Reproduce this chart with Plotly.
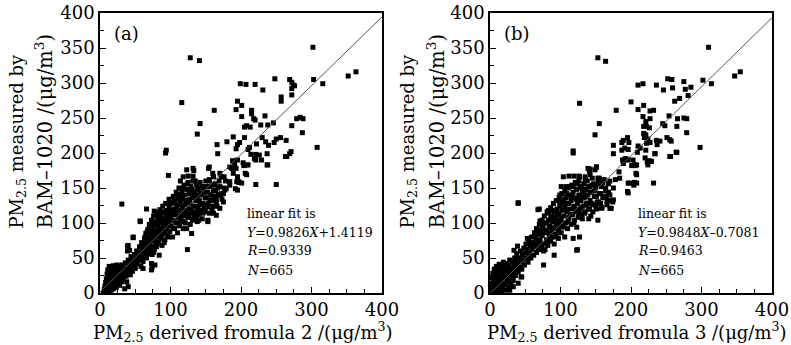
import plotly.graph_objects as go

# ---------------- data ----------------
# panel (a): outliers / sparse points
pts_a_sparse = [
    (302,351),(128,336),(141,332),(352,310),(363,316),(303,305),(316,299),(248,306),(199,299),(207,298),
    (220,298),(231,290),(269,305),(272,301),(276,296),(272,292),(274,297),(272,283),(257,280),(257,274),
    (116,272),(162,261),(195,274),(201,268),(193,262),(142,242),(138,227),(201,252),(215,261),(215,256),
    (218,249),(220,247),(234,253),(208,239),(205,237),(213,237),(228,240),(238,240),(246,243),(272,239),
    (279,249),(284,251),(288,249),(287,229),(308,208),(93,200),(94,204),(166,212),(167,199),(180,216),
    (189,223),(195,212),(198,215),(193,206),(205,222),(210,205),(212,208),(222,213),(221,198),(230,222),
    (235,216),(239,211),(247,215),(250,220),(256,222),(264,218),(271,202),(263,195),(237,199),(237,183),
    (229,190),(221,190),(204,182),(208,183),(203,186),(188,189),(195,190),(132,178),(155,180),(214,198),
    (31,127),(124,62),(114,160),(125,167),(132,167),(133,175),(97,168),(66,120),(77,117),(57,103),
    (47,79),(39,67),(39,60),(74,37),(73,42),(61,35),(84,54),(250,155),(221,155),(194,159),
    (195,147),(193,178),(175,142),(175,130),(153,104),(192,149),(197,158),(206,171),(154,178),(161,166),
    (170,171),(176,166),(184,159),(189,171),(195,166),(184,180),(191,185),(149,152),(156,133),(165,135),
    (172,142),(170,121),(161,114),(153,123),(179,149),(265,195),(269,199),(238,183),(208,169),(210,183),
    (219,192),(226,197),(197,159),(201,157),(189,188),(187,178),(184,154),(177,147),(163,138),(165,111),
    (153,102),(149,116),(142,128),(137,109),(130,85),(118,166),(123,176),(160,171),(155,162),(172,166),
    (57,102),(47,80),(40,68),(42,61),(73,42),(78,40),(64,52),(73,33),(38,16),(40,9),
]
# panel (a): dense cloud
pts_a_dense = [
    (5,1),(6,5),(7,10),(8,3),(8,15),(9,20),(10,8),(10,27),(11,13),(11,33),(12,2),(12,18),(13,24),(13,38),
    (14,9),(14,30),(15,14),(15,36),(16,4),(16,21),(17,27),(17,11),(18,33),(18,17),(19,39),(19,6),(20,23),
    (21,13),(21,30),(22,36),(22,18),(23,8),(24,26),(24,40),(25,14),(25,33),(26,21),(27,29),(27,37),(28,11),
    (28,18),(29,24),(30,33),(31,16),(31,40),(32,27),(33,21),(34,36),(35,6),(35,30),(36,43),(37,24),(38,35),
    (39,29),(40,47),(41,38),(42,32),(43,26),(43,44),(44,52),(45,38),(46,31),(47,46),(48,41),(49,55),(50,35),
    (51,48),(52,60),(53,42),(54,53),(55,47),(56,66),(57,58),(58,38),(58,51),(59,72),(60,63),(61,45),(62,56),
    (63,78),(63,68),(64,60),(65,85),(66,50),(66,73),(67,64),(68,91),(68,56),(69,79),(70,70),(70,98),(71,61),
    (72,85),(73,75),(73,104),(74,55),(74,92),(75,67),(76,81),(76,110),(77,62),(77,96),(78,74),(79,88),
    (79,102),(80,66),(80,115),(81,80),(82,94),(82,108),(83,72),(84,86),(84,100),(85,119),(86,78),(86,112),
    (87,92),(88,106),(88,68),(89,84),(89,124),(90,98),(91,114),(92,76),(92,88),(93,106),(93,128),(94,118),
    (95,92),(96,82),(96,102),(97,112),(98,124),(98,134),(99,88),(100,108),(100,118),(101,96),(102,128),
    (103,80),(103,112),(104,104),(104,138),(105,120),(106,92),(106,130),(107,112),(108,100),(108,144),
    (109,124),(110,86),(110,134),(111,108),(112,118),(112,150),(113,96),(113,140),(114,128),(115,104),
    (115,114),(116,146),(117,122),(117,134),(118,92),(119,110),(119,154),(120,140),(121,100),(121,126),
    (122,116),(123,148),(124,132),(125,108),(125,158),(126,120),(127,142),(128,98),(128,128),(129,152),
    (130,114),(131,136),(132,106),(132,160),(133,124),(134,146),(135,116),(136,132),(137,154),(138,102),
    (138,140),(139,122),(140,112),(140,148),(141,132),(142,158),(143,118),(144,140),(145,106),(146,128),
    (147,150),(148,120),(149,136),(150,160),(152,126),(153,144),(155,114),(156,152),(158,132),(160,124),
    (161,146),(163,156),(165,130),(167,150),(169,160),(171,140),
    (96,110),(99,128),(101,104),(104,92),(105,132),(107,118),(109,140),(111,100),(112,126),(114,110),
    (116,136),(118,150),(119,102),(120,118),(122,132),(123,92),(124,156),(126,112),(127,134),(129,120),
    (130,148),(131,104),(133,140),(134,112),(135,160),(136,124),(137,136),(139,150),(140,104),(141,118),
    (142,142),(144,126),(145,152),(146,114),(148,144),(150,122),(151,136),(152,152),(154,128),(155,160),
    (157,140),(159,118),(160,154),(162,134),(164,146),(166,124),(168,140),(170,152),(173,134),(176,150),
    (178,160),(61,70),(64,80),(67,88),(69,70),(71,90),(72,66),(75,100),(76,58),(78,84),(80,96),(81,70),
    (83,112),(84,92),(86,104),(87,84),(88,116),(90,90),(91,72),(92,104),(94,96),(95,112),(97,80),(98,100),
]
# panel (b): outliers / sparse points
pts_b_sparse = [
    (310,351),(153,336),(164,331),(347,310),(355,316),(302,304),(314,299),(127,271),(210,297),(217,299),
    (236,297),(246,290),(252,306),(258,305),(259,293),(275,302),(277,291),(285,294),(281,282),(269,278),
    (262,274),(200,273),(179,261),(210,262),(218,268),(227,260),(232,261),(217,252),(221,245),(222,238),
    (218,238),(226,236),(227,249),(254,253),(266,249),(275,250),(279,249),(265,238),(279,229),(245,242),
    (248,239),(298,208),(155,242),(149,226),(118,200),(118,203),(142,177),(151,180),(175,211),(175,199),
    (187,215),(189,218),(195,222),(197,215),(191,207),(196,205),(187,204),(210,210),(209,201),(213,207),
    (219,222),(222,214),(224,220),(227,215),(221,226),(218,228),(221,204),(234,199),(237,212),(241,217),
    (236,218),(251,222),(255,219),(257,217),(264,201),(256,195),(203,190),(208,183),(201,182),(206,182),
    (223,187),(226,189),(192,192),(195,191),(188,190),
    (40,129),(124,62),(91,54),(44,23),(70,120),(84,118),(99,140),(71,103),(53,78),(39,67),(34,61),
    (112,167),(119,167),(126,167),(135,166),(141,174),(151,180),(191,190),(196,190),(205,183),(207,171),
    (198,157),(195,145),(205,158),(174,130),(172,121),(153,104),(158,121),(165,138),
    (232,157),(196,143),(208,157),(204,154),(196,157),(208,169),(224,183),(229,188),(220,193),(234,199),
    (255,195),(265,201),(189,185),(183,173),(184,164),(175,133),(170,121),(153,164),(142,169),(149,176),
    (139,178),(127,166),(123,157),(113,152),(104,166),(101,152),(108,152),(40,128),(68,119),(83,118),
    (123,61),(99,95),(85,85),(106,80),(118,78),(127,80),(76,40),(45,23),(40,14),(33,9),(28,4),
]
# panel (b): dense cloud
pts_b_dense = [
    (1,2),(2,8),(3,14),(3,22),(4,4),(4,28),(5,10),(5,18),(6,34),(6,1),(7,24),(8,6),(8,14),(9,30),(9,38),
    (10,20),(10,2),(11,10),(11,26),(12,16),(12,35),(13,5),(13,41),(14,22),(15,12),(15,30),(16,3),(16,37),
    (17,18),(18,26),(18,8),(19,33),(19,44),(20,14),(21,22),(21,38),(22,4),(22,29),(23,12),(24,42),(24,19),
    (25,33),(26,26),(26,7),(27,39),(28,16),(28,47),(29,30),(30,22),(30,12),(31,36),(32,44),(32,27),(33,18),
    (34,32),(35,50),(35,40),(36,25),(37,46),(38,34),(38,56),(39,41),(40,30),(41,50),(42,37),(43,60),(44,44),
    (45,34),(46,54),(47,47),(48,64),(49,40),(50,57),(51,70),(52,50),(53,62),(54,44),(55,74),(56,56),(57,68),
    (58,50),(59,80),(60,62),(61,72),(62,54),(63,86),(64,66),(65,78),(66,58),(66,92),(67,70),(68,84),(69,62),
    (70,98),(71,76),(72,90),(73,66),(74,104),(74,82),(75,94),(76,70),(77,110),(77,86),(78,62),(79,100),
    (80,76),(81,116),(81,90),(82,68),(83,104),(84,82),(85,96),(86,122),(86,74),(87,110),(88,88),(89,102),
    (90,80),(90,128),(91,116),(92,94),(93,108),(94,84),(94,132),(95,120),(96,100),(97,90),(98,112),(98,136),
    (99,124),(100,104),(101,86),(102,118),(102,142),(103,96),(104,130),(105,110),(106,124),(106,146),
    (107,100),(108,136),(109,116),(110,92),(110,128),(111,150),(112,108),(113,140),(114,120),(115,98),
    (115,132),(116,154),(117,112),(118,144),(119,124),(120,104),(120,136),(121,158),(122,116),(123,148),
    (124,128),(125,108),(126,140),(126,160),(127,120),(128,152),(129,132),(130,112),(131,144),(132,124),
    (133,156),(134,136),(135,116),(136,148),(137,128),(138,160),(139,140),(140,120),(141,152),(142,132),
    (143,110),(144,144),(145,164),(146,126),(147,156),(148,138),(150,150),(151,120),(152,130),(154,160),
    (155,142),(157,128),(158,152),(160,136),(162,162),(164,146),(166,132),(168,156),(170,140),
    (96,112),(99,130),(101,106),(104,94),(105,134),(107,120),(109,142),(111,102),(112,128),(114,112),
    (116,138),(118,152),(119,100),(120,120),(122,134),(123,94),(124,156),(126,114),(127,136),(129,122),
    (130,150),(131,106),(133,142),(134,114),(135,162),(136,126),(137,138),(139,152),(140,106),(141,120),
    (142,144),(144,128),(145,154),(146,116),(148,146),(150,124),(151,138),(152,156),(154,130),(155,164),
    (157,142),(159,122),(160,158),(162,138),(164,150),(166,126),(168,144),(170,160),(172,132),(175,150),
    (178,162),(61,68),(64,82),(67,90),(69,72),(71,88),(72,64),(75,98),(76,60),(78,88),(80,100),(81,72),
    (83,114),(84,94),(86,106),(87,80),(88,118),(90,92),(91,70),(92,106),(94,98),(95,114),(97,78),(98,102),
]

fit_a = dict(slope=0.9826, intercept=1.4119, R="0.9339", N="665", label="(a)", formula_no="2")
fit_b = dict(slope=0.9848, intercept=-0.7081, R="0.9463", N="665", label="(b)", formula_no="3")
x_ticks = [0, 100, 200, 300, 400]
y_ticks = [0, 50, 100, 150, 200, 250, 300, 350, 400]

FONT = "DejaVu Serif"
W, H = 791, 345

def px(xp):
    return xp / W

def py(yp):
    return 1 - yp / H

fig = go.Figure()

panels = [
    (pts_a_sparse + pts_a_dense, fit_a, "x", "y"),
    (pts_b_sparse + pts_b_dense, fit_b, "x2", "y2"),
]
for pts, fit, xa, ya in panels:
    xs = [p[0] for p in pts]
    ys = [p[1] for p in pts]
    fig.add_trace(go.Scatter(x=xs, y=ys, mode="markers", xaxis=xa, yaxis=ya,
                             marker=dict(symbol="square", size=5, color="black", line=dict(width=0)),
                             showlegend=False, hoverinfo="skip"))
    lx = [0, 400]
    ly = [fit["slope"] * v + fit["intercept"] for v in lx]
    fig.add_trace(go.Scatter(x=lx, y=ly, mode="lines", xaxis=xa, yaxis=ya,
                             line=dict(color="#555555", width=1), showlegend=False, hoverinfo="skip"))

axis_common = dict(range=[0, 400], showgrid=False, zeroline=False, showline=True, linecolor="black",
                   linewidth=1.5, mirror=True, ticks="inside", ticklen=6, tickwidth=1.2, tickcolor="black",
                   automargin=False,
                   tickfont=dict(family=FONT, size=18, color="black"),
                   minor=dict(ticks="inside", ticklen=4, dtick=25, tickcolor="black", tickwidth=1))

xd_a = [100 / W, 382 / W]
xd_b = [490 / W, 772 / W]
yd = [1 - 293 / H, 1 - 13 / H]

fig.update_layout(
    template="none",
    width=W, height=H, margin=dict(l=0, r=0, t=0, b=0, autoexpand=False),
    paper_bgcolor="white", plot_bgcolor="white",
    xaxis=dict(domain=xd_a, anchor="y", tickvals=x_ticks, **axis_common),
    yaxis=dict(domain=yd, anchor="x", tickvals=y_ticks, **axis_common),
    xaxis2=dict(domain=xd_b, anchor="y2", tickvals=x_ticks, **axis_common),
    yaxis2=dict(domain=yd, anchor="x2", tickvals=y_ticks, **axis_common),
)

anns = []
for fit, x0, tx0, xtc, yt1, yt2 in [
    (fit_a, 0, 247, 243, 17, 43),
    (fit_b, 390, 638, 637, 408, 435),
]:
    anns.append(dict(text=fit["label"], x=px(112 + x0), y=py(33), xanchor="left", yanchor="middle",
                     font=dict(family=FONT, size=18, color="black")))
    sign = "+" if fit["intercept"] >= 0 else "–"
    lines = [
        "linear fit is",
        f"<i>Y</i>={fit['slope']:.4f}<i>X</i>{sign}{abs(fit['intercept']):.4f}",
        f"<i>R</i>={fit['R']}",
        f"<i>N</i>={fit['N']}",
    ]
    for i, t in enumerate(lines):
        anns.append(dict(text=t, x=px(tx0 - 2), y=py(213 + 19 * i), xanchor="left", yanchor="middle",
                         font=dict(family=FONT, size=12.5, color="black")))
    anns.append(dict(text=f"PM<sub>2.5</sub> derived fromula {fit['formula_no']} /(μg/m<sup>3</sup>)",
                     x=px(xtc), y=py(332), xanchor="center", yanchor="middle",
                     font=dict(family=FONT, size=18, color="black")))
    anns.append(dict(text="PM<sub>2.5</sub> measured by", textangle=-90, x=px(yt1), y=py(231),
                     xanchor="center", yanchor="bottom", font=dict(family=FONT, size=18, color="black")))
    anns.append(dict(text="BAM–1020 /(μg/m<sup>3</sup>)", textangle=-90, x=px(yt2), y=py(231),
                     xanchor="center", yanchor="bottom", font=dict(family=FONT, size=19.5, color="black")))

for a in anns:
    a.update(xref="paper", yref="paper", showarrow=False)
fig.update_layout(annotations=anns)

fig.write_html("out.html",
               config={"displayModeBar": False},
               post_script="document.body.style.margin='0px';"
                           "document.documentElement.style.overflow='hidden';")
